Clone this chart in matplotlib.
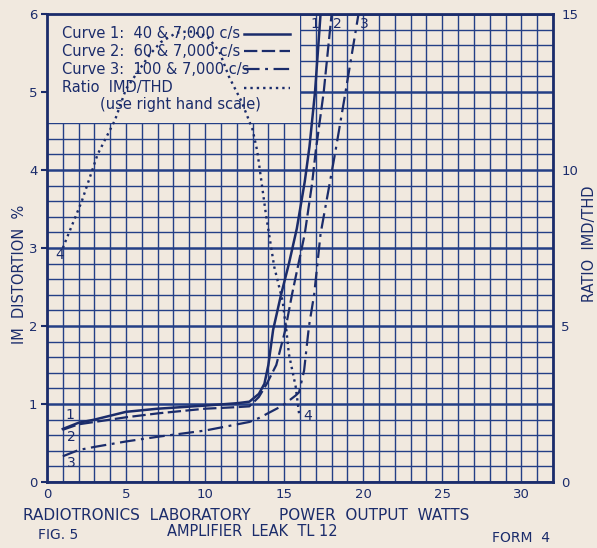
import numpy as np
import matplotlib.pyplot as plt
from matplotlib.ticker import MultipleLocator
from matplotlib.patches import Rectangle
from matplotlib.lines import Line2D

# power output (watts) vs IM distortion (%)
c1_x = [1.0, 2.0, 3.0, 5.0, 7.0, 10.0, 12.0, 12.8, 13.4, 13.75, 14.0, 14.3, 14.8, 15.3, 15.8, 16.3, 16.6, 16.95, 17.3]
c1_y = [0.68, 0.76, 0.80, 0.90, 0.94, 0.98, 1.01, 1.03, 1.13, 1.26, 1.5, 1.95, 2.4, 2.8, 3.25, 3.85, 4.3, 5.0, 6.0]

c2_x = [1.0, 2.0, 3.0, 5.0, 7.0, 10.0, 12.0, 12.8, 13.4, 13.9, 14.5, 15.06, 15.5, 16.3, 16.76, 17.0, 17.5, 18.0]
c2_y = [0.67, 0.74, 0.77, 0.83, 0.88, 0.94, 0.96, 0.97, 1.09, 1.26, 1.5, 1.94, 2.41, 3.18, 3.82, 4.25, 5.0, 6.0]

c3_x = [1.0, 2.0, 3.0, 5.0, 7.0, 10.0, 12.8, 13.4, 14.9, 15.73, 15.94, 16.26, 16.47, 16.57, 16.9, 17.3, 17.87, 18.25, 18.88, 19.7]
c3_y = [0.33, 0.41, 0.45, 0.52, 0.58, 0.66, 0.77, 0.82, 0.98, 1.11, 1.15, 1.43, 1.82, 2.0, 2.41, 3.18, 3.82, 4.25, 5.0, 6.0]

# ratio IMD/THD (right hand scale)
r_x = [1.0, 2.2, 3.2, 4.3, 5.0, 6.5, 7.2, 8.2, 9.0, 10.1, 10.9, 11.5, 12.3, 13.0, 13.3, 13.84, 14.37, 14.9, 15.14, 15.3, 15.73, 15.94]
r_y = [7.5, 9.0, 10.5, 11.6, 12.6, 13.7, 14.1, 14.4, 14.45, 14.3, 13.8, 13.0, 12.2, 11.3, 10.6, 8.6, 6.9, 5.8, 4.85, 4.1, 3.05, 2.2]

paper = '#f1e9df'
ink = '#1b2c6b'
gridc = '#243f86'

plt.rcParams['font.family'] = 'DejaVu Sans'

fig = plt.figure(figsize=(5.97, 5.48), dpi=100, facecolor=paper)
ax = fig.add_axes([0.0787, 0.1204, 0.8476, 0.854])
ax.set_facecolor(paper)
ax.set_xlim(0, 32)
ax.set_ylim(0, 6)
ax.xaxis.set_major_locator(MultipleLocator(5))
ax.xaxis.set_minor_locator(MultipleLocator(1))
ax.yaxis.set_major_locator(MultipleLocator(1))
ax.yaxis.set_minor_locator(MultipleLocator(0.2))
ax.set_axisbelow(True)
ax.grid(which='minor', color=gridc, lw=1.0)
ax.grid(which='major', axis='x', color=gridc, lw=1.0)
ax.grid(which='major', axis='y', color=gridc, lw=1.8)
ax.tick_params(which='minor', length=0)
ax.tick_params(axis='x', length=0, pad=4, labelsize=9.5, colors=ink)
ax.tick_params(axis='y', length=4, width=1.5, pad=3, labelsize=9.5, colors=ink)
for s in ax.spines.values():
    s.set_color(ink)
    s.set_linewidth(2)

# blank panel for the key (top left)
ax.add_patch(Rectangle((0, 4.6 / 6), 0.5, 1 - 4.6 / 6, transform=ax.transAxes,
                       facecolor=paper, edgecolor='none', zorder=1))

ax.plot(c1_x, c1_y, color=ink, lw=1.8, zorder=4)
ax.plot(c2_x, c2_y, color=ink, lw=1.6, dashes=(6, 2), zorder=3)
ax.plot(c3_x, c3_y, color=ink, lw=1.6, dashes=(7, 2.5, 1.3, 2.5), zorder=3)

ax2 = ax.twinx()
ax2.set_ylim(0, 15)
ax2.yaxis.set_major_locator(MultipleLocator(5))
ax2.tick_params(length=0, pad=6, labelsize=9.5, colors=ink)
for s in ax2.spines.values():
    s.set_visible(False)
ax2.plot(r_x, r_y, color=ink, lw=1.7, dashes=(1.0, 1.7))

# curve numbers
lab = dict(color=ink, fontsize=10, textcoords='offset points', ha='center', va='center')
ax.annotate('1', (c1_x[-1], c1_y[-1]), xytext=(-4, -7), **lab)
ax.annotate('2', (c2_x[-1], c2_y[-1]), xytext=(4, -7), **lab)
ax.annotate('3', (c3_x[-1], c3_y[-1]), xytext=(4, -7), **lab)
ax.annotate('1', (c1_x[0], c1_y[0]), xytext=(5, 10), **lab)
ax.annotate('2', (c2_x[0], c2_y[0]), xytext=(6, -5), **lab)
ax.annotate('3', (c3_x[0], c3_y[0]), xytext=(6, -5), **lab)
ax2.annotate('4', (r_x[0], r_y[0]), xytext=(-2, -5), **lab)
ax2.annotate('4', (r_x[-1], r_y[-1]), xytext=(6, -2), **lab)

# key
rows = [('Curve 1:  40 & 7,000 c/s', dict(lw=1.8)),
        ('Curve 2:  60 & 7,000 c/s', dict(lw=1.6, dashes=(6, 2))),
        ('Curve 3:  100 & 7,000 c/s', dict(lw=1.6, dashes=(7, 2.5, 1.3, 2.5))),
        ('Ratio  IMD/THD', dict(lw=1.7, dashes=(1.0, 1.7)))]
row_y = [0.958, 0.920, 0.882, 0.842]
for (txt, st), yy in zip(rows, row_y):
    ax.text(0.030, yy, txt, transform=ax.transAxes, color=ink, fontsize=10.5,
            va='center', ha='left', zorder=5)
    ax.add_line(Line2D([0.39, 0.481], [yy, yy], transform=ax.transAxes, color=ink,
                       zorder=5, **st))
ax.text(0.105, 0.807, '(use right hand scale)', transform=ax.transAxes, color=ink,
        fontsize=10.5, va='center', ha='left', zorder=5)

# captions
fig.text(0.0335, 0.50, 'IM  DISTORTION  %', rotation=90, ha='center', va='center',
         color=ink, fontsize=10.5)
fig.text(0.9866, 0.5547, 'RATIO  IMD/THD', rotation=90, ha='center', va='center',
         color=ink, fontsize=10.5)
fig.text(0.0385, 0.0602, 'RADIOTRONICS  LABORATORY', color=ink, fontsize=11, va='center')
fig.text(0.467, 0.0602, 'POWER  OUTPUT  WATTS', color=ink, fontsize=11, va='center')
fig.text(0.2797, 0.0292, 'AMPLIFIER  LEAK  TL 12', color=ink, fontsize=10.5, va='center')
fig.text(0.0637, 0.0237, 'FIG. 5', color=ink, fontsize=10, va='center')
fig.text(0.824, 0.0182, 'FORM  4', color=ink, fontsize=10, va='center')

fig.savefig('out.png', dpi=100, facecolor=paper)
